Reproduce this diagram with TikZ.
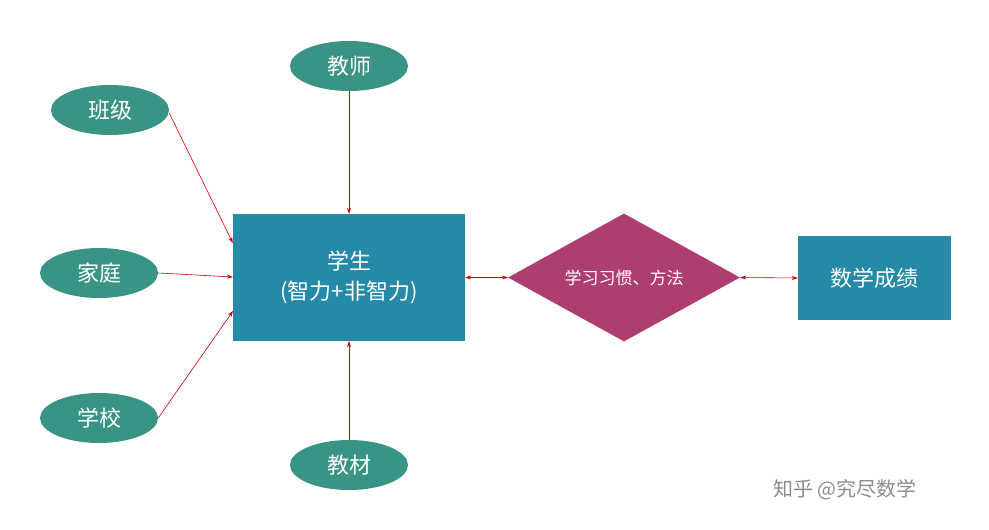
\documentclass[tikz,border=0pt]{standalone}
\usepackage{fontspec}
\setmainfont{Noto Sans CJK SC}
\usetikzlibrary{shapes.geometric,arrows.meta}
\definecolor{teal1}{HTML}{3A9485}
\definecolor{blue1}{HTML}{2589A8}
\definecolor{mag1}{HTML}{AE3E72}
\begin{document}
\begin{tikzpicture}[x=1pt,y=-1pt,
  ell/.style={ellipse,fill=teal1,minimum width=118pt,minimum height=50pt,inner sep=0pt,text=white,font=\fontsize{22}{24}\selectfont},
  box/.style={rectangle,fill=blue1,inner sep=0pt,text=white,align=center},
  con/.style={draw=red!80!black,line width=0.6pt,-{Stealth[length=6pt,width=4pt]}},
  dcon/.style={draw=red!80!black,line width=0.6pt,{Stealth[length=6pt,width=4pt]}-{Stealth[length=6pt,width=4pt]}}]
\useasboundingbox (0,0) rectangle (989,530);
\node[ell] (js) at (349,66) {教师};
\node[ell] (bj) at (110,110) {班级};
\node[ell] (jt) at (99,273) {家庭};
\node[ell] (xx) at (99,418) {学校};
\node[ell] (jc) at (349,465) {教材};
\node[box,minimum width=232pt,minimum height=127pt,font=\fontsize{22}{30}\selectfont] (st) at (349,277.5) {学生\\(智力+非智力)};
\node[diamond,fill=mag1,minimum width=232pt,minimum height=128pt,aspect=1.8,inner sep=0pt,text=white,font=\fontsize{17}{20}\selectfont] (dm) at (624,277.5) {};
\node[text=white,font=\fontsize{17}{20}\selectfont] at (624,277.5) {学习习惯、方法};
\node[box,minimum width=153pt,minimum height=84pt,font=\fontsize{22}{24}\selectfont] (cj) at (874.5,278) {数学成绩};
\node[text=black!45,font=\fontsize{20}{22}\selectfont] (wm) at (845,490) {知乎 @究尽数学};
\draw[con] (bj.east) ++(0,3) -- (st.north west |- 0,243);
\draw[con] (jt.east) -- (233,277);
\draw[con] (xx.east) -- (233,311);
\draw[con] (js.south) -- (st.north);
\draw[con] (jc.north) -- (st.south);
\draw[dcon] (st.east) -- (dm.west);
\draw[dcon] (dm.east) -- (cj.west);
\end{tikzpicture}
\end{document}
